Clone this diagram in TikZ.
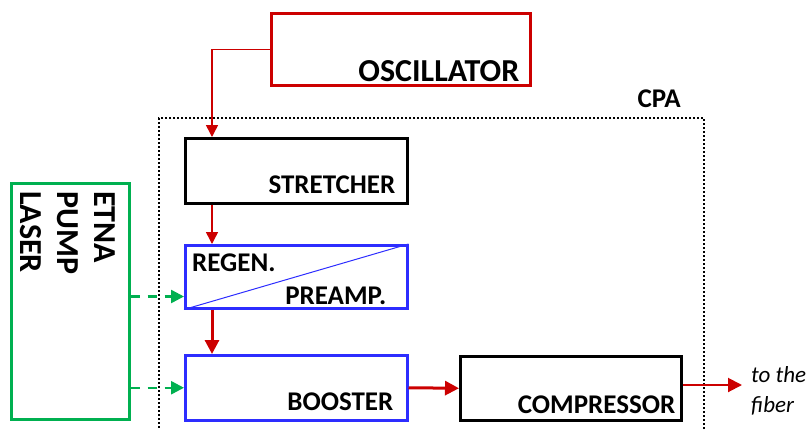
\documentclass[tikz,border=0pt]{standalone}
\usepackage{fontspec}
\setmainfont{Carlito}
\usetikzlibrary{arrows.meta}
\definecolor{seed red}{RGB}{204,0,0}
\definecolor{amp blue}{RGB}{45,45,255}
\definecolor{pump green}{RGB}{0,176,80}

\begin{document}
\begin{tikzpicture}[x=1pt, y=-1pt,
		box/.style = {draw, line width=2.5pt, inner sep=0pt, anchor=north west},
		tag/.style = {anchor=base east, inner sep=0pt, font=\fontsize{27}{30}\selectfont\bfseries},
		beam/.style = {seed red, line width=1.5pt, -{Triangle[length=12pt, width=12pt]}},
		fat beam/.style = {seed red, line width=3pt, -{Triangle[length=14pt, width=14pt]}},
		pump/.style = {pump green, line width=2.5pt, dash pattern=on 9pt off 8pt,
			-{Triangle[length=13pt, width=13pt]}}]
			\useasboundingbox (0, 0) rectangle (806, 429);
			% CPA frame
			\node[box, line width=2pt, dash pattern=on 2pt off 2pt,
				minimum width=545pt, minimum height=330pt] (cpa) at (158, 117) {};
			\node[tag] (cpalabel) at ([xshift=-24pt, yshift=10pt]cpa.north east) {CPA};
			% boxes
			\node[box, seed red, minimum width=259pt, minimum height=72pt] (osc) at (270, 12) {};
			\node[box, minimum width=222pt, minimum height=65pt] (stretcher) at (184, 137) {};
			\node[box, amp blue, minimum width=222pt, minimum height=63pt] (regen) at (184, 244) {};
			\node[box, amp blue, minimum width=222pt, minimum height=65pt] (booster) at (184, 354) {};
			\node[box, minimum width=221pt, minimum height=64pt] (compressor) at (459, 355) {};
			\node[box, pump green, minimum width=118pt, minimum height=236pt] (etna) at (10, 182) {};
			\draw[amp blue, line width=1pt] (regen.south west) -- (regen.north east);
			% texts
			\node[tag, font=\fontsize{32}{36}\selectfont\bfseries] (osclabel)
				at ([xshift=-12pt, yshift=5pt]osc.south east) {OSCILLATOR};
			\node[tag] (stretcherlabel) at ([xshift=-13pt, yshift=11pt]stretcher.south east) {STRETCHER};
			\node[tag, anchor=base west] (regenlabel) at ([xshift=8pt, yshift=-27pt]regen.north west) {REGEN.};
			\node[tag] (preamplabel) at ([xshift=-22pt, yshift=5pt]regen.south east) {PREAMP.};
			\node[tag] (boosterlabel) at ([xshift=-15pt, yshift=11pt]booster.south east) {BOOSTER};
			\node[tag] (compressorlabel) at ([xshift=-7pt, yshift=8pt]compressor.south east) {COMPRESSOR};
			\node[tag, anchor=north west, rotate=-90, align=left,
				font=\fontsize{32}{37}\selectfont\bfseries] (etnalabel)
				at ([xshift=-15pt, yshift=-9pt]etna.north east) {ETNA\\PUMP\\LASER};
			% beam path
			\draw[beam] (osc.west) -| ([xshift=28pt]stretcher.north west);
			\draw[beam] ([xshift=28pt]stretcher.south west) -- ([xshift=28pt]regen.north west);
			\draw[fat beam] ([xshift=28pt]regen.south west) -- ([xshift=28pt]booster.north west);
			\draw[fat beam] (booster.east) -- (compressor.west);
			\coordinate (out) at (742, 385);
			\draw[fat beam, line width=2pt] (compressor.east |- out) -- (out);
			\node[anchor=base west, inner sep=0pt, align=left,
				font=\fontsize{23}{30}\selectfont\itshape] (fiber)
				at ([xshift=9pt, yshift=-27pt]out) {to the\\fiber};
			% pump lines
			\draw[pump] (etna.east |- regen.south west) ++(0, -13) coordinate (p1) -- (p1 -| regen.west);
			\draw[pump] (etna.east |- booster.west) -- (booster.west);
		\end{tikzpicture}
\end{document}
